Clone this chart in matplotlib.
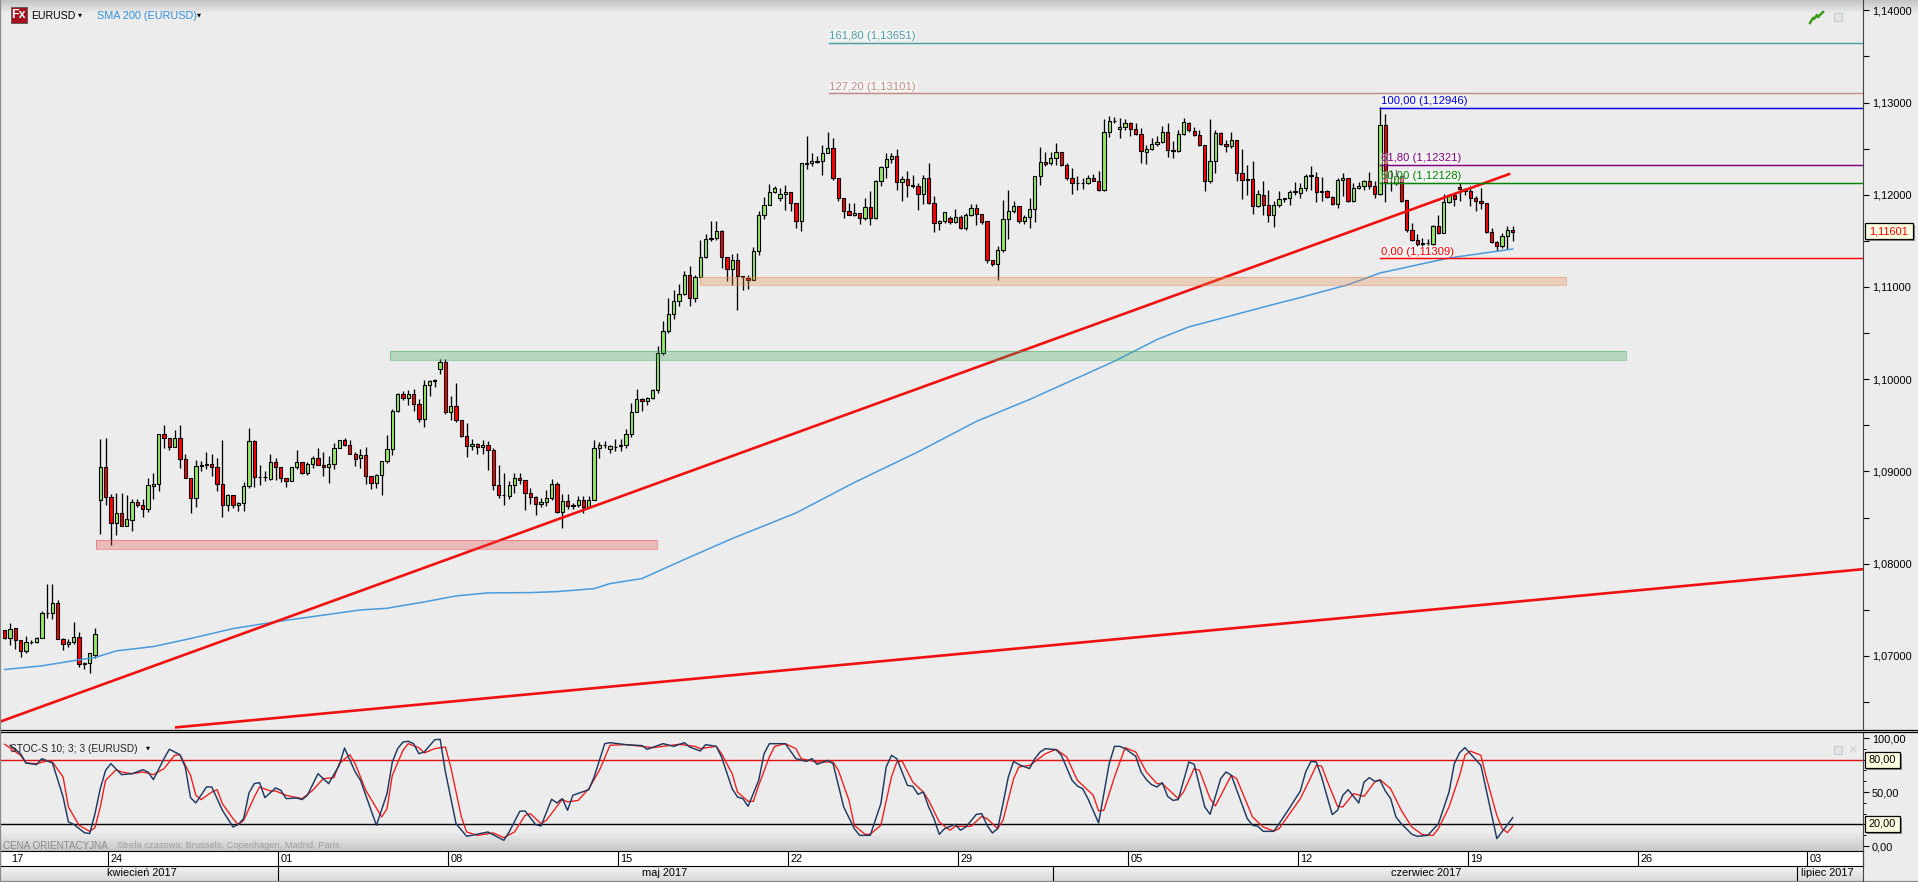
import matplotlib
matplotlib.use('Agg')
import matplotlib.pyplot as plt
import numpy as np
from matplotlib.patches import Rectangle
from matplotlib.lines import Line2D

plt.rcParams['font.family'] = ['Liberation Sans', 'DejaVu Sans']

# Swiece EURUSD H4
opens = [
    1.07278,1.07199,1.07307,1.07174,1.07054,1.07152,1.07145,1.07199,1.07470,1.07462,
    1.07578,1.07188,1.07134,1.07152,1.07210,1.06910,1.06928,1.07011,1.08694,1.09051,
    1.08726,1.08445,1.08553,1.08412,1.08474,1.08672,1.08640,1.08596,1.08845,1.08867,
    1.09409,1.09365,1.09268,1.09365,1.09138,1.08932,1.08715,1.09062,1.09070,1.09080,
    1.09051,1.08867,1.08640,1.08748,1.08640,1.08661,1.08845,1.09333,1.08943,1.08935,
    1.08921,1.09105,1.09051,1.08932,1.08900,1.09051,1.09105,1.08986,1.09084,1.09149,
    1.09073,1.09051,1.09084,1.09257,1.09344,1.09289,1.09192,1.09149,1.09181,1.08954,
    1.08878,1.08965,1.09116,1.09246,1.09654,1.09841,1.09798,1.09841,1.09733,1.09571,
    1.09935,1.09982,1.10112,1.10188,1.09646,1.09711,1.09556,1.09383,1.09278,1.09296,
    1.09267,1.09289,1.09235,1.08856,1.08747,1.08737,1.08856,1.08928,1.08910,1.08769,
    1.08726,1.08650,1.08672,1.08715,1.08867,1.08563,1.08679,1.08636,1.08636,1.08693,
    1.08617,1.08693,1.09256,1.09289,1.09246,1.09270,1.09275,1.09289,1.09408,1.09646,
    1.09787,1.09765,1.09798,1.09881,1.10282,1.10520,1.10708,1.10848,1.10924,1.11130,
    1.10881,1.11108,1.11325,1.11520,1.11527,1.11607,1.11325,1.11195,1.11289,1.11116,
    1.11094,1.11076,1.11386,1.11776,1.11885,1.12029,1.11960,1.12007,1.12029,1.11910,
    1.11715,1.12343,1.12343,1.12365,1.12365,1.12451,1.12506,1.12181,1.11964,1.11823,
    1.11776,1.11802,1.11747,1.11867,1.11747,1.12148,1.12300,1.12386,1.12419,1.12137,
    1.12170,1.12101,1.12094,1.12007,1.12181,1.11910,1.11693,1.11715,1.11747,1.11704,
    1.11758,1.11639,1.11776,1.11856,1.11791,1.11715,1.11289,1.11249,1.11397,1.11737,
    1.11823,1.11874,1.11715,1.11758,1.11845,1.12202,1.12350,1.12343,1.12397,1.12462,
    1.12321,1.12181,1.12130,1.12123,1.12130,1.12181,1.12148,1.12051,1.12686,1.12805,
    1.12711,1.12733,1.12776,1.12711,1.12657,1.12462,1.12495,1.12549,1.12571,1.12679,
    1.12484,1.12480,1.12657,1.12776,1.12690,1.12646,1.12538,1.12148,1.12365,1.12668,
    1.12549,1.12527,1.12589,1.12235,1.12159,1.12166,1.11877,1.11996,1.11884,1.11780,
    1.11884,1.11953,1.11960,1.12029,1.12014,1.12069,1.12202,1.12188,1.12029,1.12036,
    1.11975,1.11899,1.12159,1.12180,1.11928,1.12072,1.12094,1.12144,1.12094,1.12007,
    1.12758,1.12126,1.12126,1.12199,1.11942,1.11614,1.11509,1.11462,1.11473,1.11462,
    1.11661,1.11581,1.11921,1.11993,1.12083,1.12065,1.12036,1.11964,1.11935,1.11910,
    1.11592,1.11487,1.11440,1.11556,1.11614]
highs = [
    1.07278,1.07361,1.07307,1.07174,1.07217,1.07174,1.07210,1.07488,1.07776,1.07776,
    1.07603,1.07199,1.07181,1.07372,1.07264,1.06930,1.07026,1.07307,1.09347,1.09358,
    1.08759,1.08770,1.08770,1.08741,1.08697,1.08697,1.08697,1.08932,1.08986,1.09409,
    1.09499,1.09365,1.09445,1.09499,1.09185,1.08932,1.09120,1.09113,1.09210,1.09185,
    1.09149,1.09336,1.08750,1.08748,1.08672,1.08889,1.09474,1.09336,1.09066,1.09004,
    1.09192,1.09149,1.09051,1.08932,1.09051,1.09235,1.09105,1.09105,1.09163,1.09250,
    1.09214,1.09167,1.09311,1.09344,1.09358,1.09344,1.09214,1.09239,1.09264,1.08954,
    1.08968,1.09116,1.09394,1.09672,1.09852,1.09877,1.09888,1.09895,1.09780,1.09996,
    1.09996,1.10000,1.10220,1.10220,1.09823,1.09960,1.09556,1.09527,1.09347,1.09311,
    1.09339,1.09329,1.09249,1.09065,1.08986,1.08895,1.08978,1.08978,1.08910,1.08823,
    1.08733,1.08708,1.08794,1.08921,1.08885,1.08751,1.08751,1.08661,1.08733,1.08733,
    1.08733,1.09339,1.09318,1.09329,1.09285,1.09347,1.09347,1.09455,1.09737,1.09895,
    1.09798,1.09809,1.09895,1.10365,1.10632,1.10881,1.10971,1.11036,1.11170,1.11224,
    1.11126,1.11513,1.11578,1.11711,1.11718,1.11621,1.11325,1.11361,1.11368,1.11116,
    1.11134,1.11430,1.11820,1.11975,1.12119,1.12098,1.12072,1.12108,1.12029,1.11910,
    1.12343,1.12639,1.12451,1.12423,1.12542,1.12679,1.12614,1.12181,1.11964,1.11910,
    1.11910,1.11802,1.11964,1.12036,1.12163,1.12314,1.12451,1.12451,1.12495,1.12199,
    1.12253,1.12217,1.12126,1.12217,1.12343,1.11989,1.11729,1.11812,1.11765,1.11845,
    1.11784,1.11802,1.11903,1.11903,1.11791,1.11715,1.11296,1.11448,1.11939,1.12054,
    1.11928,1.11874,1.11784,1.11964,1.12202,1.12516,1.12469,1.12469,1.12560,1.12469,
    1.12343,1.12289,1.12199,1.12181,1.12217,1.12228,1.12253,1.12823,1.12856,1.12841,
    1.12830,1.12823,1.12794,1.12776,1.12722,1.12542,1.12614,1.12632,1.12751,1.12776,
    1.12578,1.12704,1.12830,1.12784,1.12740,1.12704,1.12538,1.12820,1.12704,1.12679,
    1.12596,1.12686,1.12589,1.12495,1.12325,1.12368,1.12054,1.12152,1.12054,1.11928,
    1.12043,1.11964,1.12054,1.12137,1.12126,1.12224,1.12314,1.12245,1.12188,1.12054,
    1.11982,1.12180,1.12235,1.12180,1.12126,1.12134,1.12162,1.12245,1.12144,1.12949,
    1.12877,1.12271,1.12271,1.12217,1.11942,1.11693,1.11574,1.11531,1.11520,1.11668,
    1.11783,1.12007,1.12007,1.12007,1.12126,1.12072,1.12090,1.11982,1.12072,1.11910,
    1.11639,1.11495,1.11585,1.11657,1.11657]
lows = [
    1.07188,1.07116,1.07072,1.06993,1.07029,1.07127,1.07140,1.07195,1.07408,1.07405,
    1.07181,1.07065,1.07091,1.07127,1.06874,1.06863,1.06813,1.06982,1.08326,1.08636,
    1.08203,1.08311,1.08409,1.08409,1.08354,1.08614,1.08506,1.08560,1.08701,1.08788,
    1.09257,1.09232,1.09264,1.09033,1.08925,1.08549,1.08614,1.09004,1.09022,1.08947,
    1.08788,1.08506,1.08571,1.08600,1.08571,1.08571,1.08824,1.08831,1.08853,1.08896,
    1.08907,1.08910,1.08882,1.08831,1.08896,1.09022,1.08975,1.08961,1.09033,1.09069,
    1.08947,1.08874,1.09022,1.09257,1.09279,1.09185,1.09055,1.09033,1.08864,1.08809,
    1.08817,1.08741,1.09091,1.09173,1.09643,1.09773,1.09719,1.09654,1.09534,1.09480,
    1.09823,1.09917,1.10061,1.09628,1.09556,1.09534,1.09375,1.09155,1.09231,1.09184,
    1.09184,1.09015,1.08798,1.08711,1.08636,1.08697,1.08769,1.08859,1.08581,1.08643,
    1.08527,1.08614,1.08625,1.08690,1.08552,1.08390,1.08589,1.08596,1.08614,1.08552,
    1.08607,1.08693,1.09145,1.09256,1.09202,1.09220,1.09220,1.09256,1.09372,1.09646,
    1.09654,1.09715,1.09780,1.09852,1.10267,1.10502,1.10657,1.10791,1.10917,1.10798,
    1.10834,1.11105,1.11314,1.11495,1.11506,1.11206,1.11062,1.11025,1.10747,1.10964,
    1.10982,1.11076,1.11343,1.11740,1.11885,1.12018,1.11928,1.11830,1.11820,1.11639,
    1.11603,1.12278,1.12307,1.12340,1.12217,1.12451,1.12163,1.11928,1.11747,1.11776,
    1.11765,1.11686,1.11729,1.11675,1.11737,1.12098,1.12181,1.12343,1.12047,1.11928,
    1.11975,1.12072,1.11838,1.11903,1.11903,1.11592,1.11614,1.11693,1.11686,1.11693,
    1.11628,1.11614,1.11765,1.11675,1.11686,1.11260,1.11224,1.11080,1.11376,1.11520,
    1.11802,1.11693,1.11686,1.11639,1.11701,1.12101,1.12307,1.12325,1.12321,1.12307,
    1.12163,1.12011,1.12054,1.12062,1.12119,1.12145,1.12036,1.12043,1.12625,1.12776,
    1.12621,1.12704,1.12632,1.12650,1.12343,1.12336,1.12487,1.12531,1.12560,1.12408,
    1.12397,1.12469,1.12650,1.12686,1.12632,1.12531,1.12036,1.12126,1.12235,1.12542,
    1.12469,1.12506,1.12145,1.11953,1.12000,1.11794,1.11866,1.11776,1.11700,1.11646,
    1.11866,1.11921,1.11884,1.12000,1.11964,1.12036,1.12054,1.11921,1.11928,1.11964,
    1.11884,1.11856,1.11982,1.11921,1.11921,1.12065,1.12054,1.12061,1.11964,1.11996,
    1.11921,1.12043,1.12108,1.11921,1.11600,1.11502,1.11440,1.11440,1.11450,1.11458,
    1.11574,1.11581,1.11910,1.11874,1.11928,1.12000,1.11874,1.11819,1.11848,1.11585,
    1.11477,1.11394,1.11422,1.11415,1.11495]
closes = [
    1.07199,1.07296,1.07174,1.07054,1.07152,1.07145,1.07199,1.07470,1.07462,1.07578,
    1.07188,1.07134,1.07152,1.07210,1.06910,1.06928,1.07026,1.07242,1.09051,1.08726,
    1.08445,1.08553,1.08412,1.08488,1.08672,1.08640,1.08596,1.08856,1.08867,1.09409,
    1.09365,1.09268,1.09365,1.09138,1.08932,1.08715,1.09062,1.09070,1.09080,1.09051,
    1.08867,1.08640,1.08748,1.08640,1.08661,1.08845,1.09333,1.08943,1.08935,1.08943,
    1.09105,1.09051,1.08932,1.08900,1.09051,1.09105,1.08986,1.09084,1.09149,1.09073,
    1.09051,1.09084,1.09257,1.09344,1.09289,1.09192,1.09138,1.09181,1.08954,1.08878,
    1.08965,1.09116,1.09246,1.09654,1.09841,1.09798,1.09841,1.09733,1.09571,1.09935,
    1.09982,1.09990,1.10188,1.09646,1.09711,1.09556,1.09383,1.09278,1.09300,1.09267,
    1.09289,1.09235,1.08856,1.08747,1.08740,1.08852,1.08932,1.08910,1.08769,1.08726,
    1.08650,1.08672,1.08711,1.08867,1.08563,1.08679,1.08628,1.08628,1.08693,1.08617,
    1.08693,1.09256,1.09289,1.09282,1.09274,1.09263,1.09282,1.09408,1.09643,1.09787,
    1.09765,1.09798,1.09881,1.10285,1.10520,1.10708,1.10848,1.10924,1.11130,1.10881,
    1.11108,1.11325,1.11520,1.11527,1.11607,1.11325,1.11195,1.11289,1.11116,1.11109,
    1.11076,1.11386,1.11776,1.11885,1.12029,1.12072,1.12007,1.12029,1.11910,1.11715,
    1.12343,1.12336,1.12365,1.12358,1.12451,1.12506,1.12181,1.11964,1.11823,1.11776,
    1.11802,1.11747,1.11867,1.11747,1.12148,1.12300,1.12386,1.12419,1.12137,1.12170,
    1.12101,1.12094,1.12007,1.12181,1.11906,1.11693,1.11715,1.11812,1.11701,1.11758,
    1.11639,1.11776,1.11856,1.11791,1.11704,1.11289,1.11249,1.11397,1.11737,1.11823,
    1.11874,1.11715,1.11758,1.11845,1.12202,1.12350,1.12336,1.12397,1.12462,1.12321,
    1.12181,1.12130,1.12123,1.12130,1.12181,1.12148,1.12051,1.12686,1.12805,1.12798,
    1.12733,1.12776,1.12711,1.12657,1.12473,1.12495,1.12549,1.12574,1.12679,1.12484,
    1.12477,1.12657,1.12784,1.12697,1.12646,1.12538,1.12148,1.12365,1.12668,1.12549,
    1.12527,1.12589,1.12235,1.12159,1.12166,1.11877,1.12007,1.11884,1.11780,1.11884,
    1.11953,1.11960,1.12029,1.12036,1.12072,1.12202,1.12210,1.12029,1.12036,1.11975,
    1.11899,1.12159,1.12180,1.11928,1.12072,1.12094,1.12144,1.12094,1.12007,1.12758,
    1.12126,1.12133,1.12199,1.11928,1.11614,1.11509,1.11462,1.11480,1.11480,1.11661,
    1.11581,1.11921,1.11993,1.11949,1.12058,1.12036,1.11964,1.11935,1.11910,1.11592,
    1.11487,1.11440,1.11556,1.11617,1.11601]

# SMA 200
sma_bar = [0,7,14,17,21,28,35,43,51,59,67,72,79,85,91,99,104,111,114,120,123,128,137,149,160,172,183,193,
           209,217,223,240,243,253,259,272,284]
sma_val = [1.06852,1.06892,1.06957,1.06982,1.07054,1.07101,1.07188,1.07296,1.07369,1.07434,1.07498,1.07516,
           1.07585,1.07650,1.07683,1.07686,1.07697,1.07729,1.07784,1.07838,1.07916,1.08045,1.08272,1.08549,
           1.08880,1.09212,1.09543,1.09780,1.10195,1.10430,1.10567,1.10827,1.10870,1.11025,1.11152,1.11314,1.11412]

# Stochastic %K
k_bar = [1,3,4,6,7,9,11,12,13,15,16,17,18,19,20,22,24,26,27,28,30,31,33,34,35,36,38,39,41,43,44,45,46,47,48,49,
         51,52,53,55,56,57,59,61,63,64,66,67,70,72,73,74,75,76,77,78,79,81,82,83,85,87,91,94,95,97,98,100,101,
         103,104,105,106,107,110,111,113,114,117,120,121,124,126,128,129,131,132,134,135,137,138,139,140,142,143,
         144,147,149,151,152,153,155,156,158,160,161,163,165,166,167,168,170,171,172,173,174,175,176,177,179,180,
         181,183,184,185,186,187,188,189,190,191,193,194,195,196,198,199,201,202,203,204,206,207,208,209,210,211,
         213,214,215,216,217,218,219,220,221,223,224,226,227,229,230,231,234,235,236,237,239,240,242,244,245,246,
         247,248,250,251,252,253,255,256,257,258,259,260,261,262,263,265,266,268,270,272,273,274,275,278,281,284]
k_val = [93.3,85.5,76.9,75.4,80.9,76.9,45.4,22.3,20.1,12.4,11.5,30,53.1,70.1,76.3,66.1,67,70.7,68.6,61.5,80.9,89.6,
         84.6,73.2,44.8,39.9,54.7,54.7,33.1,17.6,20.1,25.4,49.1,57.8,58.7,44.8,53.8,51.6,43.9,44.5,43,47,67,57.8,
         74.7,90.8,68.6,60.9,19.2,48.5,77.8,90.2,96.3,97,94.8,85.5,87.1,98.5,98.8,68.6,20.7,9,13,5.3,13,32.2,32.5,
         19.8,18.6,43.3,39.9,43.9,33.1,47,52.2,63.9,94.8,95.7,93.9,93,89.6,94.8,92.3,95.7,91.7,88,93.9,92.3,82.5,
         53.1,45.4,43.9,36.8,60.9,85.5,94.8,94.8,80.9,78.4,80.9,75.7,79.4,76.3,36.2,16.1,9.9,9.9,39.2,73.2,84,80.9,
         56.2,55.3,47.9,50,36.2,25.4,10.8,16.1,20.1,14.6,17.6,29.4,30,19.2,12.1,16.1,39.2,63.9,78.4,75.4,71.7,80.9,
         87.1,90.2,89.2,84,60.9,55.6,53.1,43.9,21.4,48.5,76.3,92.3,92.3,90.2,83.1,68.6,61.5,56.8,54.7,58.7,46,42.3,
         43,77.8,75.7,36.2,29.4,62.4,68.6,65.5,25.4,19.2,18.3,13.6,13.6,20.7,35.5,51,68.6,78.4,77.8,63.9,29.1,33.1,
         47,52.2,39.9,59.3,63.3,59.9,60.9,51,43.9,26.9,20.7,10.9,9,9.9,20.7,50,76.3,86.5,91.1,74.7,6.9,26.3]

# Stochastic %D
d_bar = [0,3,4,6,8,9,11,12,14,16,17,18,19,21,22,24,26,28,30,32,33,35,36,37,39,40,41,43,44,45,47,48,50,51,53,56,58,
         60,62,63,65,66,68,71,72,73,75,76,78,79,81,83,84,86,87,89,92,94,96,98,99,101,102,105,106,108,110,112,114,
         117,120,122,127,130,131,134,135,137,138,140,141,142,144,145,147,149,150,153,156,157,159,160,162,163,165,
         167,168,169,171,173,174,176,178,179,182,184,185,187,188,190,191,193,196,198,200,202,205,206,207,209,211,
         213,215,217,218,221,222,224,225,227,228,231,232,235,237,239,240,242,244,246,247,248,249,251,252,254,256,
         258,259,261,263,265,267,269,270,272,274,275,276,278,279,281,282,283,284]
d_val = [94.2,84,76.9,76.3,78.8,77.8,63.9,36.2,19.2,13.6,17,36.2,60.9,70.7,68.6,67,68.6,66.1,71.7,84,84.6,65.5,47,43,
         50,52.2,39.2,25.4,19.8,23.8,45.4,54.7,51,51,47,43.9,51.6,62.4,63.3,76.3,84.6,76.3,51.6,26.9,34.6,65.5,88.6,
         94.8,91.1,86.2,90.2,91.7,73.2,26.9,13,9.9,12.1,7.8,13,28.4,30,20.7,23.8,43.3,40.8,42.3,53.1,70.1,93.3,93.9,
         92.3,91.1,94.2,92.3,90.2,92.3,85.5,67,50,41.4,41.4,56.2,82.5,92.3,94.8,90.2,80.9,77.8,77.8,70.1,42.3,19.2,
         10.9,10.9,19.2,63.9,77.8,78.8,59.3,50,42.3,22.3,14.6,18.3,18.3,27.5,25.4,16.1,23.8,62.4,73.2,74.7,85.5,89.6,
         82.5,60.9,47,32.5,33.1,63.9,91.1,87.1,68.6,57.8,57.8,43.9,50,71.7,70.1,43.9,37.1,65.5,62.4,26.9,17.6,14,16.1,
         30,43.9,63.9,74.7,74.1,60.9,36.8,36.2,48.5,46,59.3,61.5,53.1,33.1,17.6,10.5,9.9,16.1,36.2,65.5,84,88,84,63.9,
         28.4,16.1,12.4,18.6]

# Poziomy Fibonacciego: etykieta, wartosc, kolor, pierwszy slupek
fib_labels = ['161,80 (1,13651)', '127,20 (1,13101)', '100,00 (1,12946)', '61,80 (1,12321)', '50,00 (1,12128)', '0,00 (1,11309)']
fib_values = [1.13651, 1.13101, 1.12946, 1.12321, 1.12128, 1.11309]
fib_colors = ['#4f9ea6', '#c48e86', '#0000e0', '#800080', '#008000', '#ff0000']
fib_start = [155.2, 155.2, 259, 259, 259, 259]

# Strefy wsparcia / oporu: slupek od, slupek do, dol, gora, kolor
zone_from = [17.25, 72.6, 130.9]
zone_to = [122.8, 305.4, 294.1]
zone_low = [1.08159, 1.10210, 1.11022]
zone_high = [1.08253, 1.10307, 1.11108]
zone_colors = ['#e8484a', '#3fa860', '#e88a50']

# Linie trendu
trend1_bar = [-0.885, 283.3]
trend1_val = [1.06286, 1.12224]
trend2_bar = [32.3, 350]
trend2_val = [1.06225, 1.07940]

# Os czasu
week_bars = [0.8, 19.5, 51.5, 83.5, 115.5, 147.5, 179.5, 211.5, 243.5, 275.5, 307.5, 339.5]
week_labels = ['17', '24', '01', '08', '15', '22', '29', '05', '12', '19', '26', '03']
month_seps = [51.4, 197.5, 337.5]
month_bars = [19.3, 120, 261, 338.3]
month_labels = ['kwiecień 2017', 'maj 2017', 'czerwiec 2017', 'lipiec 2017']

price_ticks = [1.07, 1.08, 1.09, 1.10, 1.11, 1.12, 1.13, 1.14]
price_labels = ['1,07000', '1,08000', '1,09000', '1,10000', '1,11000', '1,12000', '1,13000', '1,14000']
stoch_ticks = [0, 50, 100]
stoch_labels = ['0,00', '50,00', '100,00']

W, H = 1918, 882
PLOT_R = 1863  # os Y w pikselach
BG = '#ececec'
TXT = 7.9


def box(x0, y0, x1, y1):
    '''Zamienia piksele (od gory) na prostokat figury'''
    return [x0 / W, 1 - y1 / H, (x1 - x0) / W, (y1 - y0) / H]


def tx(x, y, s, **kw):
    '''Tekst na figurze w pikselach od gory'''
    kw.setdefault('fontsize', TXT)
    kw.setdefault('va', 'center')
    return fig.text(x / W, 1 - y / H, s, **kw)


def tag(x0, y0, x1, y1, s, color):
    '''Zolta etykieta z cieniem przy osi'''
    fig.add_artist(Rectangle((x0 / W + 2 / W, 1 - y1 / H - 2 / H), (x1 - x0) / W, (y1 - y0) / H,
                             transform=fig.transFigure, fc='#8a8a8a', ec='none', zorder=5))
    fig.add_artist(Rectangle((x0 / W, 1 - y1 / H), (x1 - x0) / W, (y1 - y0) / H,
                             transform=fig.transFigure, fc='#ffffe1', ec='black', lw=0.9, zorder=6))
    tx((x0 + x1) / 2, (y0 + y1) / 2, s, color=color, ha='center', zorder=7)


fig = plt.figure(figsize=(W / 100, H / 100), dpi=100, facecolor=BG)

# tlo z gradientami
tlo = np.full((H, W), 236.0)
tlo[:14, :] = np.linspace(196, 236, 14)[:, None]
tlo[832:851, :PLOT_R] = np.linspace(236, 200, 19)[:, None]
tlo[866:881, :PLOT_R] = np.linspace(242, 216, 15)[:, None]
ax_bg = fig.add_axes([0, 0, 1, 1])
ax_bg.imshow(tlo, cmap='gray', vmin=0, vmax=255, aspect='auto', interpolation='nearest')
ax_bg.axis('off')

xlim = (-0.885, 349.96)

# ---- wykres glowny ----
ax = fig.add_axes(box(0, 0, PLOT_R, 729), facecolor='none')
ax.set_xlim(*xlim)
ax.set_ylim(1.06207, 1.14112)

bars = np.arange(len(opens))
op = np.array(opens)
cl = np.array(closes)
up = cl >= op
ax.vlines(bars, lows, highs, color='black', lw=0.95, zorder=2)
ax.bar(bars[up], (cl - op)[up], bottom=op[up], width=0.62, color='#96e866', edgecolor='black', lw=0.8, zorder=3)
ax.bar(bars[~up], (op - cl)[~up], bottom=cl[~up], width=0.62, color='#ff0000', edgecolor='black', lw=0.8, zorder=3)

ax.plot(sma_bar, sma_val, color='#4a9bdc', lw=1.1, zorder=4)
ax.plot(trend1_bar, trend1_val, color='#f01010', lw=1.9, zorder=5)
ax.plot(trend2_bar, trend2_val, color='#f01010', lw=1.9, zorder=5)

for a, b, lo, hi, c in zip(zone_from, zone_to, zone_low, zone_high, zone_colors):
    ax.add_patch(Rectangle((a, lo), b - a, hi - lo, fc=c, ec='none', alpha=0.3, zorder=6))
    ax.add_patch(Rectangle((a, lo), b - a, hi - lo, fc='none', ec=c, lw=0.8, alpha=0.45, zorder=6))

for lab, val, col, start in zip(fib_labels, fib_values, fib_colors, fib_start):
    ax.plot([start, xlim[1]], [val, val], color=col, lw=1.05, zorder=7)
    ax.annotate(lab, (start, val), xytext=(0.4, 1.2), textcoords='offset points', color=col, fontsize=8.1,
                va='bottom', ha='left', zorder=8,
                bbox=dict(fc=(1, 1, 1, 0.45), ec='none', pad=0.4))

ax.yaxis.tick_right()
ax.set_yticks(price_ticks)
ax.set_yticklabels(price_labels, fontsize=TXT)
ax.set_yticks(np.arange(1.065, 1.14, 0.01), minor=True)
ax.tick_params(axis='y', which='major', length=4, width=0.8, pad=2.5)
ax.tick_params(axis='y', which='minor', length=4, width=0.8)
ax.set_xticks([])
for s in ['top', 'left', 'bottom']:
    ax.spines[s].set_visible(False)
ax.spines['right'].set_color('#444444')

# ---- stochastyk ----
ax2 = fig.add_axes(box(0, 732, PLOT_R, 851), facecolor='none')
ax2.set_xlim(*xlim)
ax2.set_ylim(-4.6, 105.6)
ax2.axhline(80, color='#e01010', lw=1.0)
ax2.axhline(20, color='black', lw=1.0)
ax2.plot(d_bar, d_val, color='#f01818', lw=0.95, zorder=3)
ax2.plot(k_bar, k_val, color='#1f3a60', lw=1.05, zorder=4)
ax2.yaxis.tick_right()
ax2.set_yticks(stoch_ticks)
ax2.set_yticklabels(stoch_labels, fontsize=TXT)
ax2.set_yticks(np.arange(0, 101, 10), minor=True)
ax2.tick_params(axis='y', which='major', length=4, width=0.8, pad=2.5)
ax2.tick_params(axis='y', which='minor', length=2.5, width=0.7)
ax2.set_xticks([])
for s in ['top', 'left', 'bottom']:
    ax2.spines[s].set_visible(False)
ax2.spines['right'].set_color('#444444')

# ---- os dat ----
ax3 = fig.add_axes(box(0, 851, PLOT_R, 866), facecolor='white')
ax3.set_xlim(*xlim)
ax3.set_ylim(0, 1)
ax3.set_xticks([])
ax3.set_yticks([])
for b, lab in zip(week_bars, week_labels):
    if b > 1:
        ax3.axvline(b, color='black', lw=0.8)
    ax3.annotate(lab, (b, 0.5), xytext=(1.8, 0), textcoords='offset points', fontsize=TXT, va='center', ha='left')
for s in ax3.spines.values():
    s.set_color('black')
    s.set_linewidth(0.8)

ax4 = fig.add_axes(box(0, 866, PLOT_R, 881), facecolor='none')
ax4.set_xlim(*xlim)
ax4.set_ylim(0, 1)
ax4.set_xticks([])
ax4.set_yticks([])
for b in month_seps:
    ax4.axvline(b, color='black', lw=0.8)
for b, lab in zip(month_bars, month_labels):
    ax4.text(b, 0.5, lab, fontsize=TXT, va='center', ha='left')
for s in ax4.spines.values():
    s.set_visible(False)

# ramki i linie rozdzielajace
fig.add_artist(Line2D([0, 1], [1 - 729.6 / H] * 2, color='black', lw=0.9))
fig.add_artist(Line2D([0, 1], [1 - 731.6 / H] * 2, color='black', lw=0.9))
fig.add_artist(Line2D([0, 1], [1 - 881.3 / H] * 2, color='#888888', lw=0.9))
fig.add_artist(Line2D([0.4 / W] * 2, [0, 1], color='#8a8a8a', lw=0.9))
fig.add_artist(Line2D([PLOT_R / W] * 2, [1 - 881 / H, 1 - 851 / H], color='#444444', lw=0.8))

# legendy
fig.add_artist(Rectangle((11 / W, 1 - 22.7 / H), 15.5 / W, 15.7 / H, transform=fig.transFigure,
                         fc='#a5101c', ec='#555555', lw=0.6))
tx(18.8, 15, 'Fx', color='white', fontsize=9, ha='center', fontweight='bold')
tx(31, 16, 'EURUSD', color='black', fontsize=7.6)
tx(80, 15, '▼', color='black', fontsize=3.8, ha='center', family='DejaVu Sans')
tx(97, 16, 'SMA 200 (EURUSD)', color='#3090d8', fontsize=7.8)
tx(199, 15, '▼', color='black', fontsize=3.8, ha='center', family='DejaVu Sans')
tx(10, 749, 'STOC-S 10; 3; 3 (EURUSD)', color='#222222', fontsize=7.3)
tx(148, 748, '▼', color='black', fontsize=3.8, ha='center', family='DejaVu Sans')
tx(3, 846, 'CENA ORIENTACYJNA', color='#8a8a8a', fontsize=7.1)
tx(117, 846, 'Strefa czasowa: Brussels, Copenhagen, Madrid, Paris', color='#a0a0a0', fontsize=6.7)

# ikonki w rogu
fig.add_artist(Line2D(np.array([1810, 1813, 1814, 1817, 1818, 1823]) / W,
                      1 - np.array([23, 18, 19, 15, 17, 12]) / H, color='#3c9a1c', lw=1.8))
for px, py in [(1837.6, 17), (1837.6, 750)]:
    fig.add_artist(Rectangle(((px - 4) / W, 1 - (py + 4) / H), 8 / W, 8 / H, transform=fig.transFigure,
                             fc='#e4e4e4', ec='#c4ccd4', lw=0.8))
tx(1853, 750, '×', color='#c8ccd0', fontsize=11, ha='center')

# etykiety przy osi
tag(1865, 223, 1913, 239, '1,11601', '#ee0000')
tag(1865, 752, 1900, 768, '80,00', 'black')
tag(1865, 816, 1900, 832, '20,00', 'black')

fig.savefig('out.png', dpi=100, facecolor=BG)
